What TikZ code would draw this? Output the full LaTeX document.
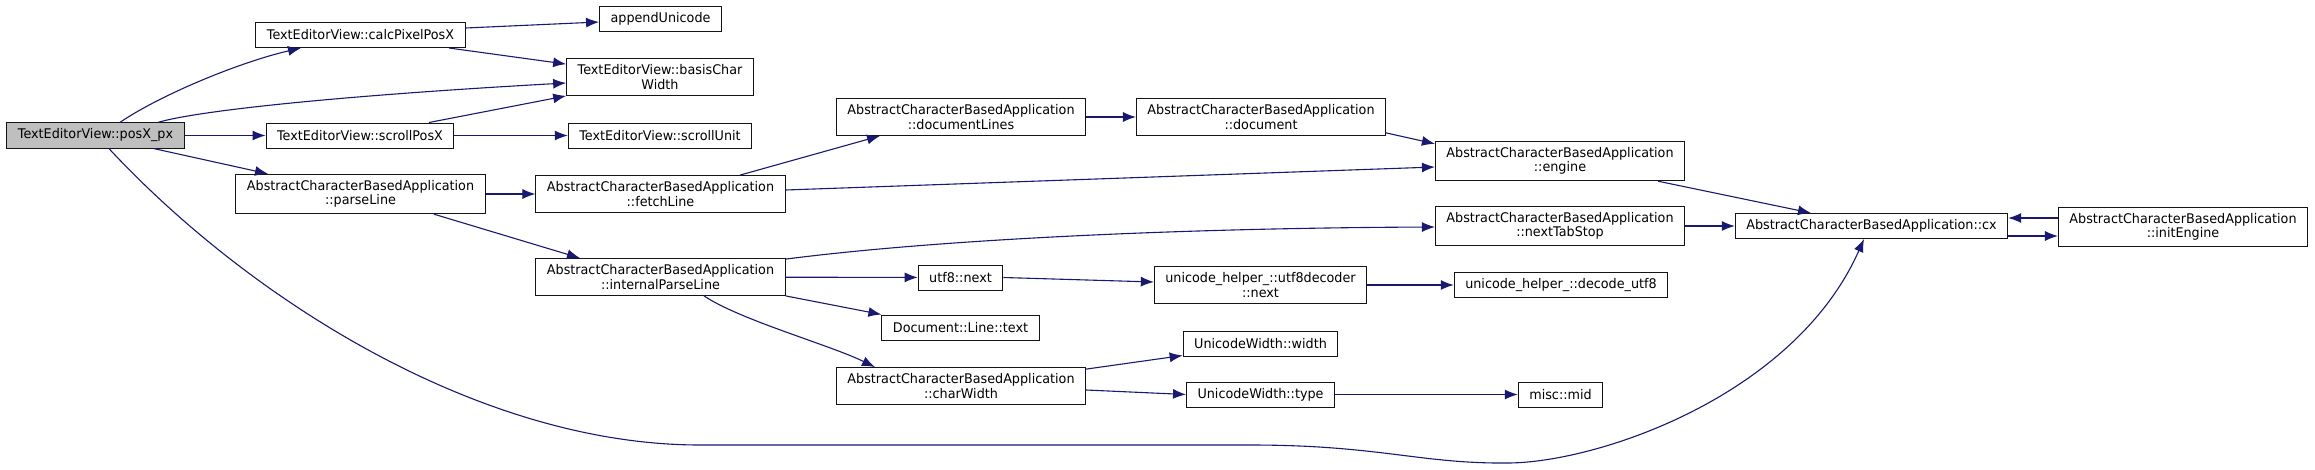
\documentclass[tikz,border=0pt]{standalone}
\usepackage{fontspec}
\setsansfont{DejaVu Sans}[FakeStretch=0.96]
\usepackage{xcolor}
\usepackage{tikz}
\usetikzlibrary{arrows.meta, calc}
\definecolor{edgeblue}{RGB}{25, 25, 112}
\definecolor{rootgray}{RGB}{191, 191, 191}
\definecolor{boxborder}{RGB}{20, 20, 20}
\tikzset{
  font=\sffamily\fontsize{13.3pt}{14.5pt}\selectfont,
  fnblock/.style={
    rectangle, draw=boxborder, fill=white, line width=1pt,
    inner xsep=11pt, inner ysep=6pt, minimum height=25pt,
    align=center
  },
  rootblock/.style={fnblock, fill=rootgray},
  callline/.style={
    draw=edgeblue, -{Latex[length=13pt, width=10pt]}, line width=1.1pt
  }
}

\begin{document}
\begin{tikzpicture}[x=1pt, y=-1pt]

  \path[use as bounding box, fill=white] (0,0) rectangle (2315,469);

  % Rank 0: the function of the graph
  \node[rootblock] (posx_px) at (95.5,135.5) {TextEditorView::posX\_px};

  % Rank 1
  \node[fnblock] (calc_pixel_posx) at (360.5,35) {TextEditorView::calcPixelPosX};
  \node[fnblock] (scroll_posx) at (360,135.5) {TextEditorView::scrollPosX};
  \node[fnblock] (parse_line) at (360.5,194) {AbstractCharacterBasedApplication\\::parseLine};

  % Rank 2
  \node[fnblock] (append_unicode) at (660.5,18.5) {appendUnicode};
  \node[fnblock] (basis_char_width) at (660,77) {TextEditorView::basisChar\\Width};
  \node[fnblock] (scroll_unit) at (660,135.5) {TextEditorView::scrollUnit};
  \node[fnblock] (fetch_line) at (660.5,194) {AbstractCharacterBasedApplication\\::fetchLine};
  \node[fnblock] (internal_parse_line) at (660.5,277) {AbstractCharacterBasedApplication\\::internalParseLine};

  % Rank 3
  \node[fnblock] (document_lines) at (961,117) {AbstractCharacterBasedApplication\\::documentLines};
  \node[fnblock] (utf8_next) at (960.5,277.5) {utf8::next};
  \node[fnblock] (line_text) at (960.5,327.5) {Document::Line::text};
  \node[fnblock] (char_width) at (961,386) {AbstractCharacterBasedApplication\\::charWidth};

  % Rank 4
  \node[fnblock] (doc_get) at (1261,117) {AbstractCharacterBasedApplication\\::document};
  \node[fnblock] (utf8_decoder_next) at (1260.5,285) {unicode\_helper\_::utf8decoder\\::next};
  \node[fnblock] (uw_width) at (1260.5,343.5) {UnicodeWidth::width};
  \node[fnblock] (uw_type) at (1260.5,394.5) {UnicodeWidth::type};

  % Rank 5
  \node[fnblock] (engine) at (1560,161) {AbstractCharacterBasedApplication\\::engine};
  \node[fnblock] (next_tab_stop) at (1560,226) {AbstractCharacterBasedApplication\\::nextTabStop};
  \node[fnblock] (decode_utf8) at (1561,285) {unicode\_helper\_::decode\_utf8};
  \node[fnblock] (misc_mid) at (1560.5,394.5) {misc::mid};

  % Rank 6 and 7
  \node[fnblock] (cx) at (1871.5,226) {AbstractCharacterBasedApplication::cx};
  \node[fnblock] (init_engine) at (2183,227) {AbstractCharacterBasedApplication\\::initEngine};

  % Calls from posX_px
  \draw[callline] ($(posx_px.north)+(24.5,0)$) .. controls (160,95) and (240,62) .. ($(calc_pixel_posx.south)+(-59.5,0)$);
  \draw[callline] ($(posx_px.north)+(62.5,0)$) .. controls (200,110) and (350,95) .. ($(basis_char_width.west)+(0,6)$);
  \draw[callline] (posx_px) -- (scroll_posx);
  \draw[callline] ($(posx_px.south)+(58.5,0)$) -- ($(parse_line.north)+(-92.5,0)$);
  \draw[callline] ($(posx_px.south)+(13.5,0)$) .. controls (250,300) and (480,445) .. (700,445)
    -- (1250,445) .. controls (1380,445) and (1420,464) .. (1509,463)
    .. controls (1600,462) and (1795,395) .. ($(cx.south)+(-7.5,0)$);

  % TextEditorView helpers
  \draw[callline] ($(calc_pixel_posx.east)+(0,-7)$) -- ($(append_unicode.west)+(0,3.5)$);
  \draw[callline] ($(calc_pixel_posx.south)+(88.5,0)$) -- ($(basis_char_width.north west)+(0,6)$);
  \draw[callline] ($(scroll_posx.north)+(69,0)$) -- (basis_char_width.south west);
  \draw[callline] (scroll_posx) -- (scroll_unit);

  % parseLine and fetchLine
  \draw[callline] (parse_line) -- (fetch_line);
  \draw[callline] ($(parse_line.south)+(73.5,0)$) -- ($(internal_parse_line.north)+(-80.5,0)$);
  \draw[callline] ($(fetch_line.north)+(79.5,0)$) -- ($(document_lines.south)+(-81,0)$);
  \draw[callline] ($(fetch_line.east)+(0,-4)$) -- ($(engine.west)+(0,6)$);
  \draw[callline] (document_lines) -- (doc_get);
  \draw[callline] ($(doc_get.south east)+(0,-3)$) -- ($(engine.north west)+(0,3)$);
  \draw[callline] ($(engine.south)+(98,0)$) -- ($(cx.north)+(-60.5,0)$);

  % internalParseLine
  \draw[callline] ($(internal_parse_line.north east)+(0,1)$) .. controls (950,238) and (1200,228) .. ($(next_tab_stop.west)+(0,1)$);
  \draw[callline] (internal_parse_line) -- (utf8_next);
  \draw[callline] (internal_parse_line.south east) -- (line_text.north west);
  \draw[callline] ($(internal_parse_line.south)+(43.5,0)$) .. controls (740,320) and (830,345) .. ($(char_width.north)+(-86,0)$);
  \draw[callline] (utf8_next.east) -- ($(utf8_decoder_next.west)+(0,-3)$);
  \draw[callline] (utf8_decoder_next) -- (decode_utf8);

  % charWidth
  \draw[callline] ($(char_width.north east)+(0,2)$) -- ($(uw_width.south west)+(0,-1)$);
  \draw[callline] ($(char_width.east)+(0,4)$) -- (uw_type.west);
  \draw[callline] (uw_type) -- (misc_mid);

  % cx and initEngine
  \draw[callline] (next_tab_stop) -- (cx);
  \draw[callline] ($(cx.east)+(0,10)$) -- ($(init_engine.west)+(0,9)$);
  \draw[callline] ($(init_engine.west)+(0,-9)$) -- ($(cx.east)+(0,-8)$);

\end{tikzpicture}
\end{document}
